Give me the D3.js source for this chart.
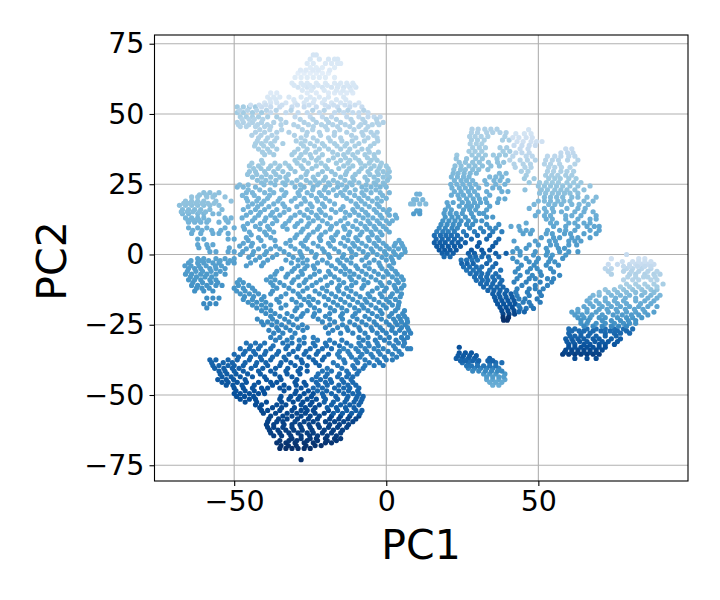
<!DOCTYPE html>
<html><head><meta charset="utf-8">
<script src="https://cdn.jsdelivr.net/npm/d3@7/dist/d3.min.js"></script>
<style>html,body{margin:0;background:#fff}svg{display:block}text{font-family:"DejaVu Sans"}</style>
</head><body><svg id="c" width="720" height="600"></svg>
<script>
// Each row: PC2, tone (percent along the Blues ramp), then PC1 values read along that row.
const crown = [
[71,17,-24,-23],[69.5,16,-25,-22,-19,-17,-16],[68,14,-26,-24,-20,-18,-16,-15],[66.5,12,-25,-23,-21,-17],
[64.5,10,-29,-27,-25,-23,-21,-19],[63,12,-30,-28,-26,-24,-22,-20,-17],[61,15,-31,-28,-26,-23,-20,-17,-15,-13,-11],
[59.5,18,-29,-26,-24,-21,-18,-16,-14,-12,-10],[57.5,13,-38,-36,-26,-23,-19,-17,-15,-13,-11],[56,15,-39,-37,-35,-32,-28,-25,-22,-19,-14],
[54,17,-40,-38,-36,-33,-30,-27,-24,-21,-18,-15,-12,-9],[52.5,36,-49,-47,-45,-43],[52.5,24,-41,-38,-35,-31,-27,-23,-19,-16,-12,-8],
[50.5,36,-49,-47,-44,-41],[50.5,26,-38,-33,-29,-26,-22,-17,-14,-11,-9,-6],[49,34,-48,-46,-44,-42,-39,-36],[49,27,-30,-25,-21,-18,-13,-9,-6,-4,-2],
[47,32,-49,-47,-44,-41,-37,-33,-27,-23,-19,-15,-11,-7,-3,-1],[45.5,31,-48,-46,-43,-40,-38,-29,-24,-20,-16,-12,-9,-6],
[43.5,32,-43,-40,-36,-32,-26,-22,-17,-13,-8,-5,-3],[41.5,32,-42,-39,-36,-28,-24,-19,-15,-10,-6,-3],
[39.5,34,-43,-41,-38,-34,-28,-25,-21,-17,-13,-9,-4],[37.5,35,-42,-39,-36,-29,-26,-22,-19,-15,-12,-8,-6],
[35.5,36,-40,-37,-31,-28,-25,-21,-16,-14,-11,-7,-4],[33.5,37,-41,-30,-27,-23,-19,-15,-12,-9,-5,-3],
[31.5,38,-45,-42,-38,-35,-32,-28,-23,-20,-14,-11,-7,-4,-2,0],[29.5,40,-45,-43,-40,-37,-34,-30,-26,-21,-18,-13,-9,-6,-3,-1,1],
[27.5,41,-44,-41,-38,-35,-33,-28,-24,-20,-15,-11,-7,-4,-1,1],[25.5,43,-41,-38,-34,-31,-25,-22,-19,-16,-12,-9,-4,-1],
[24,46,-49,-47,-43,-30,-27,-24,-20,-16,-13,-8,-5,-2,0]
];
const crownFill = [
[65.6,13,-28.2,-26.4,-24.1,-22.3,-18.6],[60.2,16,-30.3,-27.2,-25.1,-22.4,-19.4,-15.8,-12.7,-10.6],[58.4,15,-27.6,-24.6,-20.4,-16.4,-14.2,-11.6],
[55.1,16,-38.2,-36.3,-30.4,-26.2,-23.7,-20.3,-16.4,-13.3],[53.2,22,-44.6,-41.8,-39.6,-34.3,-29.2,-25.4,-20.1,-17.3,-13.6,-10.3],
[51.3,30,-48.2,-45.6,-42.6,-39.4,-36.2,-31.3,-24.2,-20.4,-15.5,-12.6,-7.4],[48.1,31,-47.4,-45.1,-43.4,-40.6,-34.7,-28.3,-24.1,-19.7,-16.4,-11.6,-7.7,-3.2],
[46.2,31,-48.6,-45.2,-42.3,-39.1,-34.6,-30.4,-25.6,-21.3,-17.6,-13.5,-8.4,-4.6,-2.4],[44.4,31,-41.6,-38.3,-34.4,-27.6,-24.2,-19.4,-15.3,-10.6,-6.7],
[42.4,32,-44.2,-41.2,-37.6,-30.2,-26.3,-21.6,-17.1,-11.4,-7.6,-4.1],[40.4,33,-42.4,-39.6,-36.7,-29.6,-26.7,-22.7,-18.4,-14.6,-11.2,-7.2,-2.8],
[38.6,34,-43.3,-40.3,-37.4,-27.2,-23.6,-20.3,-16.2,-13.6,-10.3,-5.2],[36.4,35,-40.7,-38.3,-30.2,-26.6,-23.2,-17.6,-12.6,-9.4,-5.6,-2.6],
[34.4,36,-28.6,-24.6,-22.2,-17.4,-13.4,-10.2,-6.2,-3.8],[32.5,37,-44.2,-40.6,-36.6,-33.2,-29.3,-25.6,-21.4,-16.4,-12.6,-8.4,-5.6,-1.6],
[30.6,39,-43.6,-41.2,-38.7,-35.6,-31.4,-27.4,-24.4,-19.4,-15.6,-12.2,-8.2,-5.1,-2.4,0.6],[28.5,40,-45.6,-42.6,-39.5,-36.3,-32.2,-26.4,-22.4,-16.8,-13.4,-10.2,-5.4,-2.6,0.3],
[26.4,42,-42.4,-39.6,-36.3,-32.6,-29.4,-26.3,-23.4,-20.6,-17.4,-13.6,-10.6,-6.2,-2.8,0.4],[24.8,44,-48.2,-45.4,-40.2,-36.6,-33.2,-28.2,-22.6,-18.6,-14.6,-11.2,-6.6,-3.4,-0.6]
];
const westLobe = [
[22,42,-60,-58,-55],[20.5,40,-64,-62,-59,-57,-53],[19,41,-66,-64,-62,-60,-56,-51],[17.5,42,-68,-66,-64,-62,-60,-58,-55],
[16,44,-67,-65,-63,-61,-58,-54],[14.5,46,-67,-65,-62,-60,-57,-55],[13,47,-66,-64,-62,-60,-53,-51],[11.5,48,-65,-63,-61,-59,-55,-52],
[9.5,50,-65,-62,-59,-53,-50],[7.5,51,-64,-61,-57,-55,-52],[5.5,52,-62,-60,-52,-50],[3.5,53,-62,-59,-57],
[1,54,-58,-56,-52,-50],[-1.5,56,-62,-60,-56,-53,-50],[-3,57,-65,-62,-60,-57,-55,-52,-50],[-5,58,-65,-63,-61,-58,-56,-53],
[-7,59,-66,-64,-61,-59,-56,-53],[-9,60,-65,-63,-61,-58,-56],[-11,62,-64,-62,-59,-56,-54],[-13,63,-63,-60,-57],
[-15.5,64,-59,-57,-55],[-17.5,66,-60,-58,-56],[-19,65,-59],
[21.2,41,-61.4,-59.2,-56.4],[18.2,41,-66.6,-64.7,-62.6,-60.6,-58.6,-56.6],[15.2,44,-67.4,-65.4,-63.6,-61.4,-59.4],[12.2,47,-65.2,-63.4,-61.6,-58.4,-52.6],[8.6,50,-63.6,-60.6,-57.4,-54.4],
[2.4,54,-61.6,-58.6,-51.6],[-2.2,56,-64.2,-61.2,-58.4,-54.6,-51.4],[-4,57,-66.2,-64.2,-61.6,-59.2,-56.2,-54.2],[-6,58,-65.4,-62.6,-60.4,-57.6,-54.6],[-8,59,-64.4,-62.4,-59.6,-57.4],[-10,61,-63.6,-60.4,-57.6,-55.4],[-12,62,-62.4,-60.6,-58.2]
];
const midBody = [
[22,46,-46,-44,-40,-37,-33,-29,-26,-22,-19,-15,-12,-8,-5,-2,1],[20,47,-46,-42,-39,-35,-30,-27,-23,-20,-13,-9,-6,-3,0],
[18,48,-44,-41,-37,-34,-28,-25,-21,-17,-10,-7,-3],[16,49,-47,-43,-40,-36,-32,-26,-22,-18,-15,-11,-8,-4,-1,1],
[14,50,-46,-42,-38,-35,-30,-27,-23,-20,-12,-9,-6,-2,1,3],[12,50,-44,-40,-36,-32,-28,-24,-21,-15,-10,-6,-3,0,2],
[10,51,-47,-43,-39,-34,-30,-26,-22,-18,-14,-11,-7,-4,-1],[8,52,-45,-40,-37,-28,-24,-20,-16,-12,-8,-5,-2,1],
[6,53,-46,-42,-38,-30,-26,-22,-18,-14,-10,-6,-3],[4,54,-47,-44,-33,-28,-24,-19,-15,-11,-8,-4,-1,3,5],
[2,55,-46,-42,-38,-35,-30,-26,-21,-17,-12,-9,-5,-2,1,4,6],[0,56,-48,-44,-40,-36,-32,-28,-23,-19,-14,-10,-6,-3,0,3,5],
[-2,57,-43,-39,-33,-29,-26,-21,-16,-13,-8,-4,0,2],[-4,58,-46,-41,-29,-26,-24,-18,-14,-10,-7,-2,1],
[-6,58,-36,-31,-28,-22,-19,-15,-12,-8,-4,0,3],[-8,59,-38,-33,-29,-25,-20,-17,-12,-9,-5,-1,2,5],
[-10,60,-49,-47,-38,-35,-31,-27,-23,-18,-14,-10,-6,-2,1,4],[-12,61,-50,-47,-44,-36,-32,-26,-21,-16,-13,-8,-3,0,3,5],
[-14,61,-48,-45,-42,-38,-33,-29,-22,-18,-14,-10,-6,-2,2,5],[-16,62,-47,-44,-41,-36,-31,-27,-24,-19,-15,-11,-7,-4,0,3],
[-18,63,-44,-41,-38,-33,-28,-25,-20,-16,-12,-8,-5,-1,2,4],[-20,64,-41,-38,-30,-26,-22,-17,-13,-9,-6,-2,3,6],
[-22,65,-38,-35,-31,-28,-24,-20,-15,-11,-7,-3,1,4,6],[-24,66,-41,-39,-36,-32,-21,-17,-12,-8,-4,0,3,5,7],
[-26,67,-36,-33,-29,-26,-20,-16,-13,-9,-5,-2,2,5,7],[-28,68,-37,-34,-30,-19,-15,-11,-7,-3,0,3,6,8],
[-29.5,69,-38,-35,-31,-27,-24,-9,-6,-2,1,5,7]
];
const midFill = [
[23,45,-45.4,-41.6,-38.2,-34.4,-28.2,-24.2,-20.4,-17.4,-13.6,-10.2,-6.6,-3.4],[21,46,-47.3,-43.4,-38.4,-33.6,-28.6,-24.6,-21.3,-16.4,-14.2,-10.4,-7.3,-1.2],
[19,47,-45.6,-42.6,-40.2,-35.6,-31.2,-26.6,-22.6,-18.6,-11.6,-8.2,-4.6,-1.6],[17,48,-45.4,-42.3,-38.6,-33.4,-29.4,-24.4,-20.3,-14.2,-9.4,-5.6,-2.3],
[15,49,-44.6,-41.4,-37.4,-33.6,-28.4,-24.6,-21.4,-16.6,-13.4,-10.4,-6.8,-3.2,0.3],[13,50,-47.4,-43.2,-39.6,-36.6,-31.4,-25.6,-22.4,-18.4,-13.6,-7.6,-4.4,-1.4,3.4],
[11,51,-45.6,-41.4,-37.4,-33.2,-29.2,-25.4,-19.4,-16.4,-12.6,-8.4,-5.4,-2.2,1],[9,52,-46.6,-41.6,-38.4,-32.6,-27.4,-22.6,-18.4,-13.6,-9.6,-6.4,-3.4,0],
[7,53,-44.4,-39.4,-29.4,-25.4,-21.4,-16.6,-12.4,-8.6,-4.6,-1.4],[5,54,-45.4,-41.2,-36.6,-31.6,-26.6,-21.6,-17.4,-12.6,-9.4,-5.6,-2.4,4.2],
[3,55,-48.2,-44.4,-40.2,-36.4,-31.4,-27.2,-22.4,-18.4,-13.6,-10.4,-6.6,-3.2,0,2.6,5.4],[1,56,-47.2,-43.6,-39.4,-33.6,-28.4,-24.6,-20.4,-15.6,-11.4,-7.6,-4.4,-0.6,2.4,6.2],
[-1,57,-45.2,-41.6,-37.4,-30.6,-27.6,-23.4,-18.6,-14.4,-11.4,-6.6,-1.4,1.6,4.2],[-3,57,-44.6,-40.4,-31.2,-27.4,-22.6,-19.4,-15.2,-11.6,-5.6,-2.4,2.4],
[-5,58,-34.4,-30.2,-26.8,-23.6,-16.6,-13.4,-9.4,-5.6,-1.4,1.8],[-7,59,-36.6,-32.4,-27.6,-23.6,-18.4,-13.6,-10.6,-6.6,-2.6,0.6,3.6],
[-9,59,-48.2,-39.4,-36.6,-30.4,-26.4,-21.6,-15.6,-11.4,-7.4,-3.4,3.4,5.6],[-11,60,-48.6,-45.2,-37.2,-33.6,-28.6,-24.4,-19.4,-15.4,-11.4,-7.4,-1.4,2.6,5.8],
[-13,61,-49.2,-46.4,-43.2,-37.4,-30.6,-27.4,-23.4,-19.6,-15.6,-11.6,-4.6,-0.6,3.6],[-15,62,-46.6,-43.6,-40.2,-34.6,-28.4,-25.4,-20.4,-16.6,-12.4,-8.6,-5.4,-1.4,1.4,4.6],
[-17,63,-45.4,-42.6,-39.6,-35.2,-29.6,-25.6,-22.4,-17.4,-13.6,-9.4,-6.4,-2.4,1,4.2],[-19,64,-42.6,-39.6,-34.6,-29.4,-23.6,-18.4,-14.6,-10.4,-7.4,-3.4,0,3.8],
[-21,65,-39.6,-36.6,-32.6,-27.4,-23.6,-18.6,-14.4,-10.2,-4.6,-1.4,1.8,5.4],[-23,66,-42.4,-37.4,-33.4,-29.4,-22.4,-18.6,-14.4,-9.6,-5.6,-1.6,2.4,4.6,6.8],
[-25,67,-40.4,-37.6,-34.4,-30.6,-27.6,-18.6,-14.4,-10.4,-6.6,-3.2,1,3.6,6.2],[-27,68,-38.6,-35.4,-31.6,-27.4,-17.6,-12.6,-8.6,-4.6,-1.2,1.8,4.4,7.4],
[-30.5,70,-36.4,-32.6,-28.6,-22.6,-18.6,-14.6,-7.6,-3.6,-0.6,3.2,5.8]
];
const southBody = [
[-31.5,74,-46,-43,-40,-34,-31,-27,-24,-20,-17,-13],[-31.5,68,-9,-6,-3,1,4,6],
[-33.5,76,-48,-45,-42,-38,-33,-29,-25,-21,-18],[-33.5,68,-14,-10,-7,-4,-1,3,7,8],
[-35.5,78,-50,-47,-43,-40,-36,-32,-27,-23,-19],[-35.5,69,-16,-12,-8,-5,-2,2,5],
[-37.5,80,-58,-56,-52,-49,-45,-41,-38,-33,-28,-24,-21],[-37.5,71,-14,-10,-7,-3,0,2],
[-39.5,81,-57,-55,-52,-50,-47,-43,-39,-35,-30,-26,-22],[-39.5,72,-16,-11,-7,-4,-1],
[-41.5,82,-55,-53,-50,-47,-42,-38,-33,-29,-26],[-41.5,74,-21,-18,-13,-9],
[-43.5,84,-54,-51,-48,-44,-40,-35,-31],[-43.5,76,-23,-20,-16,-13,-11],
[-45.5,86,-54,-52,-49,-46,-42,-38,-36,-30,-27],[-45.5,78,-23,-20,-18,-14,-11],
[-47.5,87,-50,-47,-44,-41,-39,-35,-32,-28],[-47.5,78,-24,-21,-17,-14,-12,-9],
[-49.5,88,-50,-48,-45,-42,-40,-30,-27,-24],[-49.5,79,-21,-18,-14,-11,-9],
[-51.5,88,-48,-45,-43,-35,-32,-29,-26,-23],[-51.5,80,-20,-16,-13,-10,-8],
[-53.5,89,-43,-41,-36,-33,-28,-25,-22],[-53.5,81,-18,-15,-12,-9],
[-55.5,90,-41,-39,-35,-31,-28,-26,-24,-19],[-55.5,82,-16,-13,-10,-8],
[-57.5,91,-38,-34,-31,-28,-25,-22,-18,-15,-12,-9],
[-59.5,92,-39,-36,-34,-30,-27,-24,-20,-17,-14,-11],[-61.5,93,-39,-37,-34,-31,-28,-25,-22,-19,-16,-13],
[-63.5,94,-38,-35,-32,-29,-26,-24,-21,-18,-15],[-65.5,96,-31,-28,-25,-23,-20,-17,-15],
[-67,98,-36,-33,-30,-27,-24,-20,-18],[-69,100,-35,-33,-31,-29,-27,-25],[-73,100,-28]
];
const southFill = [
[-32.5,75,-44.6,-41.4,-37.2,-32.4,-28.6,-23.4,-19.6,-15.4],[-32.5,68,-11.6,-8.4,-5.6,-2.6,2.4,5.6],[-34.5,77,-46.4,-43.6,-39.6,-35.4,-30.6,-26.4,-22.4],[-34.5,69,-15.4,-12.6,-9.2,-6.4,-2.6,0.6,4.2],
[-36.5,79,-48.6,-44.6,-41.4,-37.4,-33.6,-29.4,-25.4,-20.4],[-36.5,70,-15.4,-11.4,-8.6,-4.4,-0.6,3.4],[-38.5,80,-57.4,-53.6,-50.6,-46.4,-42.6,-39.6,-34.6,-31.4,-27.6,-23.2],[-38.5,72,-17.4,-13.6,-9.4,-5.6,-2.2],
[-40.5,82,-56.4,-53.4,-50.6,-48.4,-44.4,-40.6,-36.4,-32.4,-28.2],[-40.5,73,-19.4,-14.6,-10.4,-7.6],[-42.5,83,-54.6,-52.4,-49.4,-45.6,-41.4,-36.6,-32.6,-28.4],[-42.5,75,-22.4,-19.4,-15.4,-12.4,-9.6],
[-44.5,85,-55.4,-52.6,-50.2,-46.4,-39.4,-34.6,-29.4],[-44.5,77,-24.4,-21.6,-18.4,-14.6,-11.6],[-46.5,86,-52.6,-50.4,-47.4,-43.4,-37.4,-33.6,-29.6,-26.4],[-46.5,78,-22.4,-19.4,-15.6,-12.6,-10],
[-48.5,87,-49.4,-46.4,-43.4,-40.4,-33.6,-29.6,-25.6],[-48.5,79,-22.6,-19.6,-15.6,-12.4,-9.4],[-50.5,88,-49.2,-46.6,-43.6,-34.6,-31.4,-28.4,-24.6],[-50.5,80,-20.6,-16.6,-12.6,-9.6,-7.6],
[-52.5,89,-46.4,-42.6,-39.4,-34.4,-30.6,-27.4,-24.4],[-52.5,81,-20.4,-17.4,-13.6,-10.6,-8.4],[-54.5,90,-41.6,-37.4,-34.4,-30.2,-26.6,-23.4],[-54.5,82,-19.4,-16.4,-13.4,-10.6],
[-56.5,91,-40.4,-36.4,-32.6,-29.4,-26.6,-23.4,-20.4],[-56.5,83,-17.4,-14.4,-11.4,-8.6],[-58.5,92,-38.6,-35.4,-32.6,-29.2,-25.6,-22.6,-18.6,-15.6,-12.6,-10],
[-60.5,93,-39.4,-37,-33.6,-31,-28.4,-25.4,-22.4,-18.6,-15.4,-12.4],[-62.5,94,-38.4,-35.6,-33,-30.4,-27.6,-24.4,-20.4,-17.4,-14.4],[-64.5,95,-37,-34.4,-31.4,-28,-25.2,-22.6,-19.4,-16.4],
[-66.2,97,-35,-32,-29.4,-26,-22.6,-19.4,-16.4],[-68,99,-34.6,-32.2,-29.6,-26.4,-23.4,-21.4]
];
const ringWest = [
[44.6,32,28.2,30.2,32.4,34.4,36.4],[43.4,32,28,30,33,35,37.4,39.4],[42,33,27.4,29.2,31.2,33.4,39],[40.7,34,28,30,32.2,38.2,40.4],[39.4,34,27.6,29.6,31.4],[38,35,28.4,30.6,32.6,37.4,39.6],
[36.7,36,27.2,29.2,31.4,38.4,40.6],[35.4,38,23.2,28.2,30.4,32.6,35.2,37.2,39.2],[34.1,40,23,26.4,29.4,31.6,36.4],[32.8,41,24,26,28.4,30.6,33.6,36.6,38.6],[31.5,42,22.6,24.6,27.2,29.2,31.6,34.4,37.2],
[30.2,43,22.2,24.4,26,28.4,30.4,33.4],[28.9,45,22,23.6,25.6,27.6,29.6,37.2,39.4],[27.6,46,21.4,23.4,25.4,27.2,34,36,38],[26.3,47,22.4,24.6,26.4,28.4,32.4,35.4,37.4,40],[25,48,21.2,23.2,25.2,27.4,29.4,33,36,39],
[23.7,49,21.6,24,26,28,30.4,35,37.2],[22.4,50,22.4,24.6,27,29,33,38,40],[21.1,51,21.4,23.6,25.4,27.6,30,34],[19.8,52,24,26.4,28.6,30.6,32.6,37,39],[18.5,54,20,22,25,27,29,31,33,36.6],
[17.2,55,20.4,24,26.4,28,30,34],[15.9,56,19.4,21.4,25.4,27.4,29.4,33],[14.6,58,19,21,23,25,28,30.6,32],[13.3,60,19.4,21.6,23.6,26,28.6,33,35],[12,62,18.6,20.6,22.6,24.6,27,29.4,31.4],
[10.7,64,18,20,22,24,26.4,28.4,33,37],[9.4,66,17.4,19.4,21.6,23.4,27.4,31,34,36],[8.1,70,16.6,18.6,20.4,22.4,25.4,29,32,35,38],[6.8,76,15.8,17.8,19.6,21.4,23.4,26.4,30,34],[5.5,78,16.4,18.4,20.4,22.4,24.6,28,33,37],
[4.2,82,15.8,17.6,19.4,21.6,23.6,26,30.6,36],[2.9,84,16.6,18.4,20.4,22.4,24.4,30,35],[1.6,85,17.4,19.2,21,23,28,31.4,34],[0.4,82,18.4,20,22,27,29,32,36,39.4],[-0.8,78,19,21,27.6,29.4,31.4,33.6,37],
[-2,74,24.6,26.4,28.2,30,34],[-3.2,80,24.8,26.6,28.6,33,36],[-4.4,76,25.4,27.4,29.6,31.4,35],[-5.6,74,26.4,28.6,30.6,34,37.6],[-6.8,76,27.6,29.6,31.4,33.4,36],[-8,76,29,31,33,35,37],
[-9.2,77,29.6,31.6,33.4,35.6,38],[-10.4,78,31,33,35,37.4],[-11.6,79,32,34.4,36.4,38.4],[-12.8,80,33.4,35.4,37.4,39.6],[-14,82,35,37,39,41],[-15.2,83,35.6,37.4,39.4,41.4],
[-16.4,85,36,38,40,42],[-17.6,86,36.6,38.6,40.6,42.4],[-18.8,88,37.4,39.4,41.4],[-20,90,38,40,42],[-21.2,92,38.4,40.4,42.2],[-22.4,98,38.4,40.2],[-23.4,100,38.6,39.8]
];
const ringEast = [
[44.4,18,46.8],[43,18,42.6,45.4,47.6],[41.6,20,41.6,43.6,46,48],[40.2,20,43,45,47.6,49.4,51.2],[38.8,24,42,44.6,47,49],[37.6,25,44,46.6,59,61],
[36.2,27,42.6,44.6,47,57.4,59.6,61.4],[35,28,41.6,46,48,53,55.4,57.4,60,62],[33.6,30,40.6,44,46.4,49,52.4,54.6,56.6,59.6,63],[32.2,31,42,45,47.4,52,54,57,62],[31,31,42.4,45.6,47.6,53.4,55.4,57.6,60.4],
[29.6,33,44.4,46.6,53,55,57.4,59.4,61.6],[28.2,35,46,52.4,54.4,56.4,59,61],[27,37,45.4,48.6,53.4,55.4,57.2,60,62.4],[25.6,38,47,50.4,52.6,54.6,56.6,59.4,61.6,64],[24.4,40,50,52,54,56,58,60.4,63,67],
[23,41,45.6,51,53,55.4,57.4,59.4,62,65],[21.8,42,50.4,52.4,54.6,56.6,58.6,60.4,63],[20.4,44,52,54,56,58,61,63,66,69],[19,45,50,52,54,56.4,58.4,60.4,65,68],[17.8,46,48.6,53.4,55.4,57.6,61,63.4,66.4],
[16.4,48,47,52,54.6,59.4,63,65.4],[15.2,49,50,52.6,55,57.6,62,65,68],[13.8,50,49,52,54,59,61,64,69],[12.6,51,52.6,54.6,59,63,67,69],[11.2,52,46,54,56,60,62,65,67],
[10,53,41,43.6,55,59,63,66,68.4,70],[8.6,54,44,46,48,53,57,59,62,67,70],[7.4,56,45,47.4,52.6,54.6,58.6,60.6,65,69],[6,57,51,55,57,61,63,67],[4.8,57,42,49,53.6,55.6,60,62,64],
[3.4,58,47,50,54,56,60,62.6],[2.2,60,43,46,52.6,56.6,58.6],[1,60,41.6,44,49,53,57,60,63],[-0.2,60,44,48.4,52.6,54.6,59],[-1.4,62,41.6,46,50,54,58],
[-2.6,63,43,47,49.4,53.4,55.4],[-3.8,64,44.4,48.6,52.6,56.6],[-5,64,43.4,47.4,49.6,54],[-6.2,65,42.4,46.4,50.6,55],[-7.4,66,44,48,51,57],
[-8.6,67,43,47,49,53,55],[-9.8,69,42,46,50.6,54.4],[-11,68,44.6,49,53],[-12.2,69,43,47,49,51.6],[-13.4,70,42.6,46.4,50.4],[-14.6,70,43,47,51],
[-15.8,71,43.6,45.6,49.6],[-17,71,45,47,50.6],[-18.2,72,43.6,47.6],[-19.2,74,44,46,48.4],[-20.4,80,43.6,45.4]
];
const eastLobe = [
[0,25,79],[-1.5,20,74,83,85],[-3.5,24,73,76,80,82,84,86,88],[-5,28,72,74,79,81,84,87],[-7,32,74,80,82,85,88,90],[-9,30,78,81,83,87,89],
[-10.5,34,79,82,85,88,91],[-12.5,40,72,75,78,81,84,87,89],[-14.5,46,68,70,74,77,80,84,87,90],[-16.5,50,66,69,72,75,78,82,85,88],
[-18.5,53,65,68,71,74,77,80,83,86,89],[-20.5,56,61,63,66,69,73,76,79,82,85,88],[-22.5,60,63,65,67,70,72,76,79,81,84],[-24.5,62,64,66,69,72,75,78,80,82],
[-26.5,76,60,62,66,69,72,75,78,81],[-28,78,60,64,67,72,75,77,80],[-30,82,59,61,63,65,68,70,74,77],[-32,86,60,62,65,67,70,72,75],
[-34,90,59,61,63,65,67,69,71],[-35.5,95,58,60,62,64,66,68,70],[-37,90,62,66,69],
[-2.5,22,77.6,81,83,85,87],[-4.2,26,78,80,82.6,85,87],[-6,30,73,78,80.6,83,86,89],[-8,31,79.4,82,84.6,86,88.4],[-11.5,36,77,80,83,86,89],[-13.5,43,70,73,76,79,82,85,88],
[-15.5,48,67,72,75.4,78.6,82,86,89],[-17.5,51,67,70,73,76,79,83.6,87],[-19.5,54,63,66,70,72.6,75.6,78.6,81.6,84.4],[-21.5,58,62,64.4,67.6,71,74.6,77.6,80.6,83,86],[-23.5,62,64,66.4,71,74,77,79.6,82],
[-25.5,66,65,68,71,74,76.4,79],[-27.2,78,61,63.4,65,68,70.6,73.6,76,79],[-29,80,60.4,62,64,66.4,69,72,75.6],[-31,84,59.4,61.4,63.6,66,68.6,71,73,76],[-33,88,60,62,64,66,68,70,72],[-34.8,92,58.6,61,63,65,67,69]
];
const southIsland = [
[-33,88,24],[-35,86,24,26,28],[-37,82,23,25,27,29,34],[-38.5,76,25,27,30,34,36,38],[-40.5,68,27,29,31,33,35,37],[-42.5,60,32,34,36,39],[-44.5,54,33,35,37,39],[-46.5,50,35,37],
[-36,84,23.6,25.4,27.4,29.6],[-37.8,80,24.4,26,28.4,30.4,33.4,35],[-39.6,74,26.4,28,30,32,34,36],[-41.5,66,28.4,30.4,32.6,34.6,36.6,38],[-43.5,58,33,35,37,38.6],[-45.5,52,34,36,38]
];
const northIsland = [[21.5,48,10,11],[19.5,46,9,10,12],[18,44,8,9,11,13],[15.5,56,10,11],[14.5,58,9,11]];

const pc1Ticks = [-50, 0, 50];
const pc2Ticks = [-75, -50, -25, 0, 25, 50, 75];
const bluesStops = ["#f7fbff","#deebf7","#c6dbef","#9ecae1","#6baed6","#4292c6","#2171b5","#08519c","#08306b"];

const points = [crown, crownFill, westLobe, midBody, midFill, southBody, southFill, ringWest, ringEast, eastLobe, southIsland, northIsland]
  .flat().flatMap(([pc2, tone, ...xs]) => xs.map(pc1 => ({pc1, pc2, tone})));

const svg = d3.select("#c");
const L=154.5,R=688,T=35,B=481;
const x = d3.scaleLinear().domain([-76.2, 99.2]).range([L, R]);
const y = d3.scaleLinear().domain([-80.6, 78.1]).range([B, T]);
const colour = d3.scaleLinear().domain(d3.range(9).map(i => i * 12.5)).range(bluesStops);

const grid = svg.append("g");
grid.selectAll(".gx").data(pc1Ticks).join("line").attr("x1",x).attr("x2",x).attr("y1",T).attr("y2",B);
grid.selectAll(".gy").data(pc2Ticks).join("line").attr("y1",y).attr("y2",y).attr("x1",L).attr("x2",R);
grid.selectAll("line").attr("stroke","#b0b0b0").attr("stroke-width",1.1);

svg.append("g").selectAll("circle").data(points).join("circle")
  .attr("cx",d=>x(d.pc1)).attr("cy",d=>y(d.pc2)).attr("r",2.6).attr("fill",d=>colour(d.tone));

const fmt = d => String(d).replace("-", "\u2212");
const ax = svg.append("g").attr("transform",`translate(0,${B})`).call(d3.axisBottom(x).tickValues(pc1Ticks).tickFormat(fmt).tickSize(5).tickPadding(5));
const ay = svg.append("g").attr("transform",`translate(${L},0)`).call(d3.axisLeft(y).tickValues(pc2Ticks).tickFormat(fmt).tickSize(5).tickPadding(5));
[ax,ay].forEach(a=>{a.select(".domain").remove();a.selectAll("line").attr("stroke","#000").attr("stroke-width",1.1);
  a.selectAll("text").attr("font-size",28.5).attr("fill","#000");});
svg.append("rect").attr("x",L).attr("y",T).attr("width",R-L).attr("height",B-T).attr("fill","none").attr("stroke","#000").attr("stroke-width",1.1);
svg.append("text").attr("x",421).attr("y",559).attr("text-anchor","middle").attr("font-size",41).text("PC1");
svg.append("text").attr("transform","translate(66,261) rotate(-90)").attr("text-anchor","middle").attr("font-size",41).text("PC2");
</script></body></html>
